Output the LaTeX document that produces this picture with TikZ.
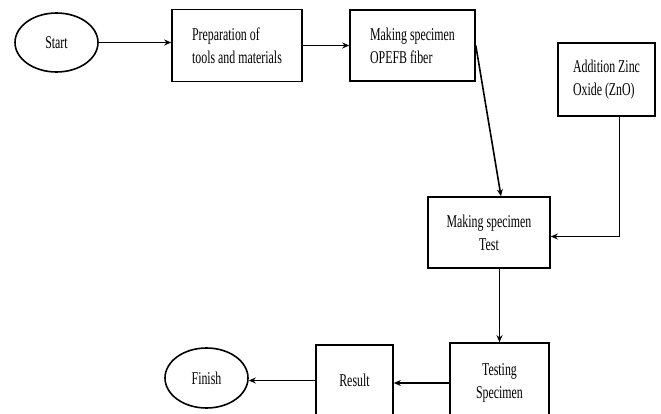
\documentclass[tikz,border=0pt]{standalone}
\usepackage{fontspec}
\setmainfont[FakeStretch=0.66]{Liberation Serif}
\usetikzlibrary{arrows.meta,shapes.geometric,positioning}

\begin{document}
\begin{tikzpicture}[x=1pt, y=-1pt,
    stepbox/.style={draw, line width=1.6pt, align=left, font=\fontsize{18}{23}\selectfont, inner sep=0pt},
    term/.style={draw, ellipse, line width=1.6pt, minimum width=83pt, minimum height=59pt, inner sep=0pt, font=\fontsize{18}{23}\selectfont},
    arr/.style={-{Stealth[length=7pt,width=6pt]}, line width=1.6pt}
]
\path[use as bounding box] (0,0) rectangle (661,414);
\clip (0,0) rectangle (661,414);

\node[term] (start) at (56.5,42.5) {Start};
\node[stepbox, minimum width=130pt, minimum height=72pt] (prep) at (237,45.5) {Preparation of\\tools and materials};
\node[stepbox, minimum width=125pt, minimum height=71pt] (opefb) at (412.5,45.5) {Making specimen\\OPEFB fiber};
\node[stepbox, minimum width=97pt, minimum height=73pt] (zno) at (606.5,79.5) {Addition Zinc\\Oxide (ZnO)};
\node[stepbox, align=center, minimum width=122pt, minimum height=71pt] (test) at (489,232.5) {Making specimen\\Test};
\node[stepbox, align=center, minimum width=99pt, minimum height=80pt] (testing) at (499.5,383) {Testing\\Specimen};
\node[stepbox, minimum width=77pt, minimum height=71pt] (result) at (354.5,380.5) {Result};
\node[term, minimum height=60pt] (finish) at (206.5,378) {Finish};

\draw[arr] (start.east) -- (start.east -| prep.west);
\draw[arr] (prep) -- (opefb);
\draw[arr] (opefb.east) -- ([xshift=12pt]test.north);
\draw[arr] ([xshift=13pt]zno.south) |- ([yshift=-4pt]test.east);
\draw[arr] (testing.north |- test.south) -- (testing.north);
\draw[arr] (testing.west) -- (testing.west -| result.east);
\draw[arr] (result.west) -- (result.west -| finish.east);
\end{tikzpicture}
\end{document}
